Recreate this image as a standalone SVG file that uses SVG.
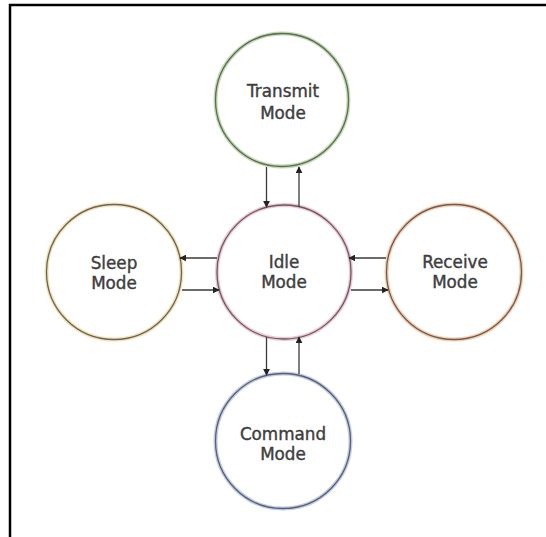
<svg xmlns="http://www.w3.org/2000/svg" width="546" height="537" viewBox="0 0 546 537">
<style>
.halo{fill:#ffffff;stroke-width:4}
.core{fill:none;stroke-width:1.3}
.lbl{font-family:"DejaVu Sans",Verdana,sans-serif;font-size:16.8px;fill:#3e3e3e;stroke:#3e3e3e;stroke-width:0.4;text-anchor:middle}
.arr{stroke:#3a3a3a;stroke-width:1.3;fill:none;marker-end:url(#ah)}
</style>
<defs>
<marker id="ah" viewBox="0 0 10 10" refX="9" refY="5" markerWidth="7" markerHeight="7" markerUnits="userSpaceOnUse" orient="auto">
<path d="M0,0 L10,5 L0,10 z" fill="#222"/>
</marker>
</defs>
<rect width="546" height="537" fill="#ffffff"/>
<path d="M10,537 V5 H546" fill="none" stroke="#000" stroke-width="2.5"/>
<g id="transmit">
<circle cx="282" cy="100" r="66.5" class="halo" stroke="#c4dcb4"/>
<circle cx="282" cy="100" r="66.5" class="core" stroke="#5e6b58"/>
<text class="lbl" x="283" y="97">Transmit</text>
<text class="lbl" x="283" y="119">Mode</text>
</g>
<g id="sleep">
<circle cx="114" cy="272" r="67.5" class="halo" stroke="#f2e2bc"/>
<circle cx="114" cy="272" r="67.5" class="core" stroke="#6e6550"/>
<text class="lbl" x="114" y="269">Sleep</text>
<text class="lbl" x="114" y="289">Mode</text>
</g>
<g id="idle">
<circle cx="284" cy="272" r="67" class="halo" stroke="#ecc8d6"/>
<circle cx="284" cy="272" r="67" class="core" stroke="#6c5862"/>
<text class="lbl" x="284" y="268">Idle</text>
<text class="lbl" x="284" y="288">Mode</text>
</g>
<g id="receive">
<circle cx="454" cy="272" r="67.5" class="halo" stroke="#f2d0b4"/>
<circle cx="454" cy="272" r="67.5" class="core" stroke="#765a4a"/>
<text class="lbl" x="455" y="268">Receive</text>
<text class="lbl" x="455" y="288">Mode</text>
</g>
<g id="command">
<circle cx="283" cy="441" r="67.5" class="halo" stroke="#c4cce6"/>
<circle cx="283" cy="441" r="67.5" class="core" stroke="#585f72"/>
<text class="lbl" x="283" y="440">Command</text>
<text class="lbl" x="283" y="460">Mode</text>
</g>
<g id="connectors">
<line class="arr" x1="266.5" y1="167" x2="266.5" y2="207"/>
<line class="arr" x1="299" y1="207" x2="299" y2="167"/>
<line class="arr" x1="217" y1="258" x2="180" y2="258"/>
<line class="arr" x1="182" y1="290" x2="219" y2="290"/>
<line class="arr" x1="386" y1="258" x2="349" y2="258"/>
<line class="arr" x1="351" y1="290" x2="388" y2="290"/>
<line class="arr" x1="266.5" y1="337" x2="266.5" y2="375"/>
<line class="arr" x1="299" y1="374" x2="299" y2="337"/>
</g>
</svg>
